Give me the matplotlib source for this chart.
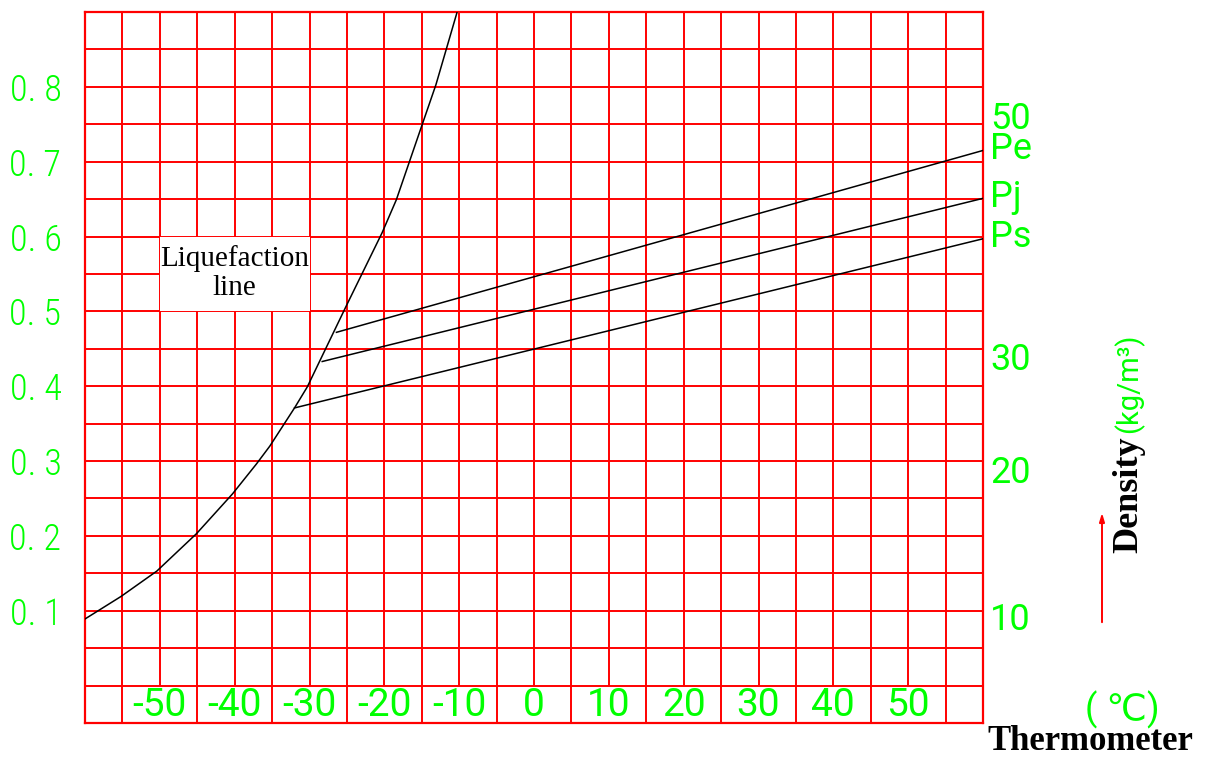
import matplotlib
matplotlib.use("Agg")
import matplotlib.pyplot as plt
from matplotlib.patches import Rectangle

# liquefaction curve, temperature (C) vs left scale
liq_temp = [-60, -55.2, -50.4, -45.1, -40.3, -37.1, -35.3, -32, -30.3,
            -25.1, -20.3, -18.4, -15.1, -13.1, -10.3]
liq_val = [0.089, 0.119, 0.153, 0.203, 0.256, 0.296, 0.320, 0.371, 0.399,
           0.507, 0.605, 0.649, 0.745, 0.803, 0.899]

# density lines: start on the liquefaction line, end at +60 C
line_names = ["Pe", "Pj", "Ps"]
line_start_t = [-26.4, -28.3, -32.0]
line_start_v = [0.472, 0.433, 0.371]
line_end_t = [60, 60, 60]
line_end_v = [0.715, 0.651, 0.597]

left_ticks = [0.1, 0.2, 0.3, 0.4, 0.5, 0.6, 0.7, 0.8]
left_labels = ["0. 1", "0. 2", "0. 3", "0. 4", "0. 5", "0. 6", "0. 7", "0. 8"]
temp_ticks = [-50, -40, -30, -20, -10, 0, 10, 20, 30, 40, 50]
density_labels = ["50", "30", "20", "10"]
density_pos = [0.763, 0.440, 0.289, 0.093]

RED = "#ff0000"
GREEN = "#00ff00"
NARROW = ["Roboto Condensed", "DejaVu Sans"]
CAD = ["Roboto", "DejaVu Sans"]
SERIF = ["Liberation Serif", "DejaVu Serif"]

fig = plt.figure(figsize=(12.1, 7.58), dpi=100)
ax = fig.add_axes([85 / 1210, 1 - 723 / 758, 898 / 1210, 711 / 758])
ax.set_xlim(-60, 60)
ax.set_ylim(-0.05, 0.9)

# red grid: full-height lines at odd multiples of 5, shorter ones stop at the label row
for i in range(-11, 12):
    x = i * 5
    if i % 2:
        ax.vlines(x, -0.05, 0.9, color=RED, lw=1.4, zorder=1)
    else:
        ax.vlines(x, 0, 0.9, color=RED, lw=1.4, zorder=1)
for j in range(0, 18):
    ax.hlines(j * 0.05, -60, 60, color=RED, lw=1.4, zorder=1)
for s in ax.spines.values():
    s.set_color(RED)
    s.set_linewidth(1.6)

# white box behind the label
ax.add_patch(Rectangle((-50, 0.5), 20, 0.1, facecolor="white", edgecolor="none", zorder=2))
ax.text(-40, 0.551, "Liquefaction\nline", ha="center", va="center", fontsize=21,
        family=SERIF, linespacing=1.15, zorder=3)

ax.plot(liq_temp, liq_val, color="black", lw=1.1, zorder=4)
for name, t0, v0, t1, v1 in zip(line_names, line_start_t, line_start_v, line_end_t, line_end_v):
    ax.plot([t0, t1], [v0, v1], color="black", lw=1.1, zorder=4)
    ax.annotate(name, (t1, v1), xytext=(5, 1), textcoords="offset points",
                ha="left", va="center", fontsize=26, color=GREEN, family=CAD,
                annotation_clip=False)

ax.set_xticks([])
ax.set_yticks(left_ticks)
ax.set_yticklabels(left_labels, color=GREEN, fontsize=26, family=NARROW, fontweight="light")
ax.tick_params(axis="y", length=0, pad=17)

for t in temp_ticks:
    ax.text(t, -0.026, str(t), ha="center", va="center",
            fontsize=28, color=GREEN, family=CAD, zorder=3)

ax2 = ax.twinx()
ax2.set_ylim(-0.05, 0.9)
ax2.set_yticks(density_pos)
ax2.set_yticklabels(density_labels, color=GREEN, fontsize=26, family=CAD)
ax2.tick_params(axis="y", length=0, pad=5)
for s in ax2.spines.values():
    s.set_visible(False)

# right-hand captions
fig.text(1137 / 1210, 1 - 553 / 758, "Density", rotation=90, rotation_mode="anchor",
         ha="left", va="baseline", fontsize=26, family=SERIF, fontweight="bold")
fig.text(1137 / 1210, 1 - 433 / 758, "(kg/m\u00b3)", rotation=90, rotation_mode="anchor",
         ha="left", va="baseline", fontsize=21, family=CAD, color=GREEN)
ax.annotate("", xy=(1102 / 1210, 1 - 510 / 758), xytext=(1102 / 1210, 1 - 625 / 758),
            xycoords="figure fraction", textcoords="figure fraction",
            arrowprops=dict(arrowstyle="-|>,head_length=0.5,head_width=0.15",
                            color=RED, lw=1.4))
fig.text(1122 / 1210, 1 - 710 / 758, "( \u2103)", ha="center", va="center",
         fontsize=26, family=CAD, color=GREEN)
fig.text(1090 / 1210, 1 - 742 / 758, "Thermometer", ha="center", va="center",
         fontsize=25, family=SERIF, fontweight="bold")

fig.savefig("out.png", dpi=100)
